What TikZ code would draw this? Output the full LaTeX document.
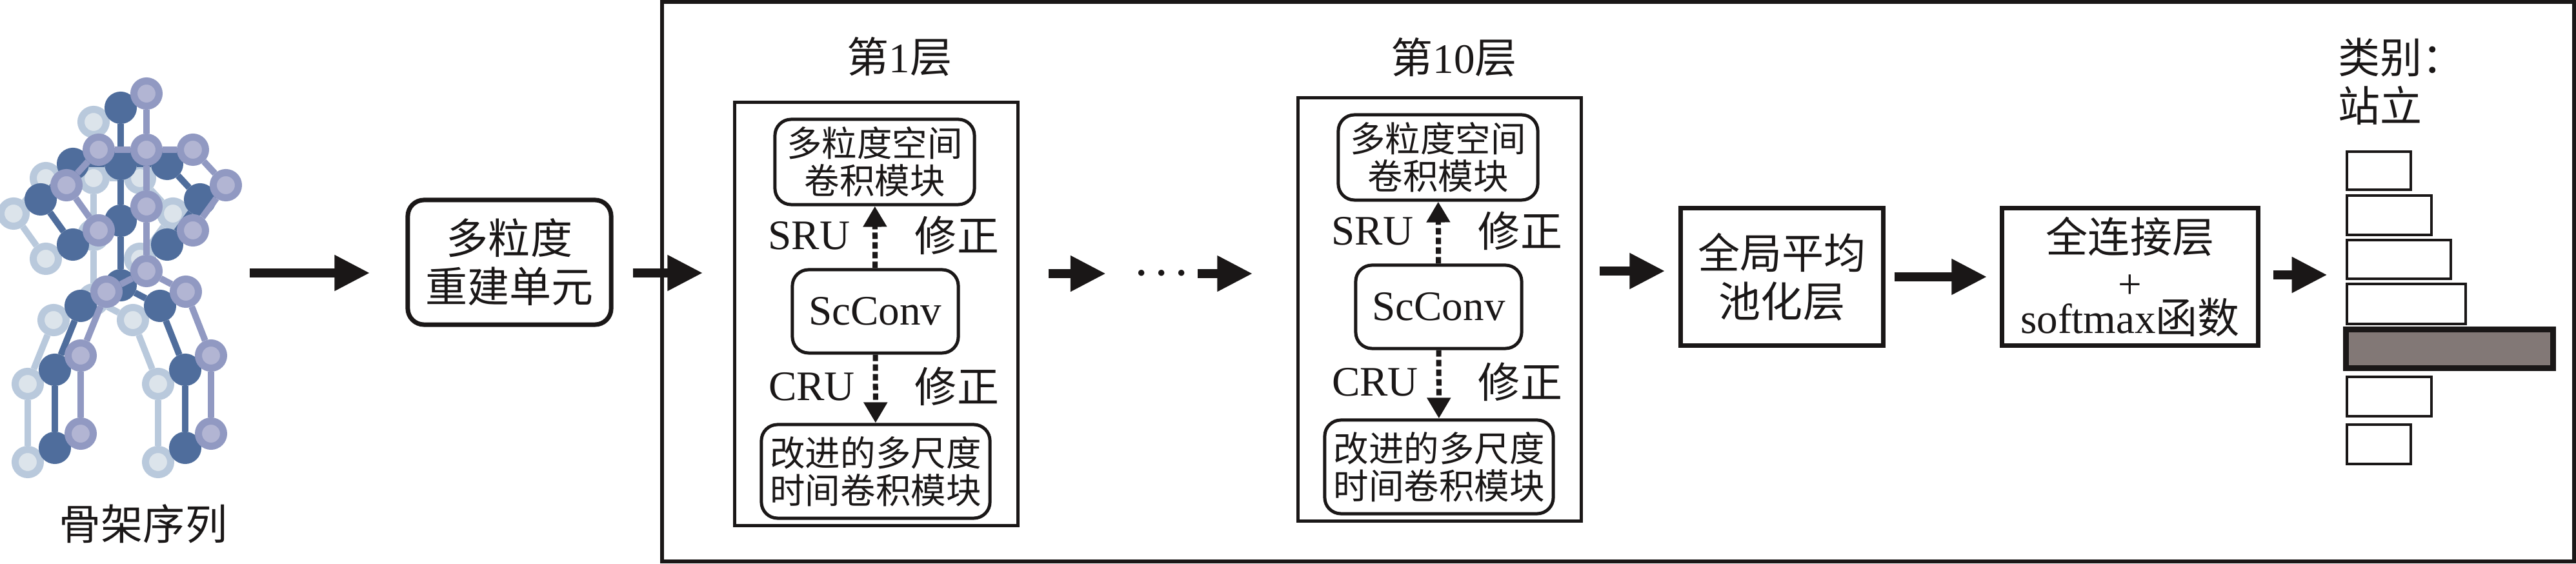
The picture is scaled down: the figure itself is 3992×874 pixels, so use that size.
\documentclass[tikz,border=0pt]{standalone}
\usepackage{fontspec}
\setmainfont{Liberation Serif}
\newfontfamily\cjk{Noto Sans CJK SC}
\newcommand{\cn}[1]{{\cjk #1}}
\usetikzlibrary{arrows.meta}
\definecolor{boneLight}{HTML}{B9C9DC}
\definecolor{coreLight}{HTML}{DCE4EB}
\definecolor{boneDark}{HTML}{4F6D9C}
\definecolor{boneMid}{HTML}{9199C2}
\definecolor{coreMid}{HTML}{B2B5D3}
\definecolor{barGray}{HTML}{827876}
\definecolor{inkBlack}{HTML}{1A1717}
\begin{document}
\begin{tikzpicture}
[x=0.01cm,y=-0.01cm,
  color=inkBlack,
  flowArrow/.style={-{Triangle[length=0.55cm,width=0.52cm]},line width=0.14cm},%
  fixArrow/.style={-{Triangle[length=0.32cm,width=0.35cm]},line width=0.08cm,dash pattern=on 0.1cm off 0.05cm},%
  bigText/.style={font=\fontsize{18.5}{21.3}\selectfont,inner sep=0pt,align=center},%
  roundBox/.style={shape=rectangle,draw,line width=0.05cm,rounded corners=0.25cm,inner sep=0pt,align=center},%
  moduleBox/.style={roundBox,font=\fontsize{15.5}{16.6}\selectfont},%
  plainBox/.style={shape=rectangle,draw,line width=0.07cm,inner sep=0pt,align=center,font=\fontsize{18.5}{21.3}\selectfont},%
  barBox/.style={shape=rectangle,draw,line width=0.045cm,inner sep=0pt},%
  joint/.style={shape=circle,inner sep=0pt,minimum size=0.39cm,line width=0.11cm}]
\useasboundingbox (0,0) rectangle (3992,874);
%% skeleton sequence
\foreach \skelname/\dx/\dy/\bone/\core in {light/-82/44/boneLight/coreLight, dark/-40/22/boneDark/boneDark, mid/0/0/boneMid/coreMid}
{
  \begin{scope}[shift={(\dx,\dy)},name prefix=\skelname-]
  \foreach \nodename/\x/\y in {head/227/145, neck/227/232, shL/153/232, elL/103/287, haL/153/357,
    shR/299/232, elR/350/287, haR/299/357, spine/227/320, hip/227/420, hiL/165/452, knL/125/551,
    foL/125/672, hiR/288/452, knR/327/551, foR/327/672}
  {
    \node (\nodename) at (\x,\y) [joint,draw=\bone,fill=\core] {};
  }
  \path
  \foreach \startnode/\endnode in {head/neck, neck/shL, shL/elL, elL/haL, neck/shR, shR/elR, elR/haR,
    neck/spine, spine/hip, hip/hiL, hiL/knL, knL/foL, hip/hiR, hiR/knR, knR/foR}
  {
    (\startnode) edge[draw=\bone,line width=0.1cm] (\endnode)
  };
  \end{scope}
}
\node (skelLabel) at (222,812) [bigText] {\cn{骨架序列}};
\coordinate (skelOut) at (387,423);
%% outer frame and first block
\node (frame) at (2507.5,436.5) [shape=rectangle,draw,line width=0.065cm,minimum width=29.61cm,minimum height=8.67cm] {};
\node (recon) at (789.5,406.5) [roundBox,line width=0.07cm,minimum width=3.15cm,minimum height=1.93cm,font=\fontsize{18.5}{21.3}\selectfont] {\cn{多粒度}\\\cn{重建单元}};
%% the two layers
\foreach \layername/\dx/\dy in {layerA/0/0, layerB/873/-7}
{
  \begin{scope}[shift={(\dx,\dy)},name prefix=\layername-]
  \node (box) at (1358,486.5) [shape=rectangle,draw,line width=0.05cm,minimum width=4.38cm,minimum height=6.55cm] {};
  \node (spatial) at (1355.5,251) [moduleBox,minimum width=3.09cm,minimum height=1.32cm] {\cn{多粒度空间}\\\cn{卷积模块}};
  \node (scconv) at (1356.5,482.5) [roundBox,minimum width=2.57cm,minimum height=1.29cm,font=\fontsize{18.5}{21.3}\selectfont] {ScConv};
  \node (temporal) at (1357,730.5) [moduleBox,minimum width=3.54cm,minimum height=1.45cm] {\cn{改进的多尺度}\\\cn{时间卷积模块}};
  \node (sru) at (1254,365) [bigText] {SRU};
  \node (fixA) at (1483,365) [bigText] {\cn{修正}};
  \node (cru) at (1258,599) [bigText] {CRU};
  \node (fixB) at (1483,599) [bigText] {\cn{修正}};
  \draw[fixArrow] (scconv) -- (spatial);
  \draw[fixArrow] (scconv) -- (temporal);
  \end{scope}
}
\node (titleA) at (1394,88) [bigText] {\cn{第}1\cn{层}};
\node (titleB) at (2253,89) [bigText] {\cn{第}10\cn{层}};
\node (dots) at (1800,424) [inner sep=0pt,font=\fontsize{18}{18}\selectfont\boldmath] {$\cdots$};
%% pooling and classifier
\node (pool) at (2761.5,429) [plainBox,minimum width=3.13cm,minimum height=2.12cm] {\cn{全局平均}\\\cn{池化层}};
\node (fc) at (3301,429) [plainBox,minimum width=3.96cm,minimum height=2.12cm] {\cn{全连接层}\\[-1pt]+\\[-6pt]softmax\cn{函数}};
%% class bars
\node (classText) at (3623,126) [bigText,anchor=west,align=left] {\cn{类别：}\\\cn{站立}};
\foreach \nodename/\xa/\xb/\ya/\yb in {barA/3637/3736/235/294, barB/3637/3768/303/364, barC/3637/3798/372/432,
  barD/3637/3821/440/502, barF/3637/3768/584/645, barG/3637/3736/658/719}
{
  \node (\nodename) at ({(\xa+\xb)/2},{(\ya+\yb)/2}) [barBox,minimum width={(\xb-\xa)*0.01cm},minimum height={(\yb-\ya)*0.01cm}] {};
}
\node (barE) at (3796,540.5) [barBox,line width=0.09cm,fill=barGray,minimum width=3.2cm,minimum height=0.6cm] {};
%% arrows between blocks
\draw[flowArrow,shorten >=0.55cm] (skelOut) -- (skelOut -| recon.west);
\draw[flowArrow,shorten <=0.3cm,shorten >=0.47cm] (recon.east |- skelOut) -- (layerA-box.west |- skelOut);
\draw[flowArrow,shorten <=0.45cm,shorten >=0.86cm] (layerA-box.east |- dots) -- (dots.center);
\draw[flowArrow,shorten <=0.56cm,shorten >=0.68cm] (dots.center) -- (layerB-box.west |- dots);
\coordinate (poolIn) at (2475,420);
\draw[flowArrow,shorten <=0.26cm,shorten >=0.21cm] (layerB-box.east |- poolIn) -- (pool.west |- poolIn);
\draw[flowArrow,shorten <=0.14cm,shorten >=0.2cm] (pool) -- (fc);
\coordinate (barIn) at (3519,426);
\draw[flowArrow,shorten <=0.2cm,shorten >=0.28cm] (fc.east |- barIn) -- (barC.west |- barIn);
\end{tikzpicture}
\end{document}
